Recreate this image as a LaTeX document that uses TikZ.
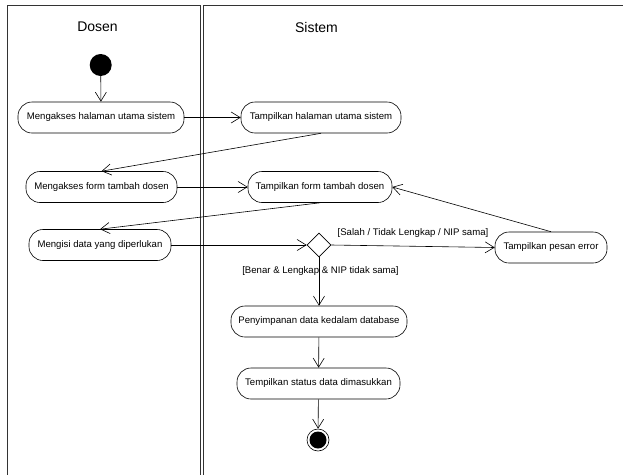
\documentclass[tikz,border=0pt]{standalone}
\usepackage{fontspec}
\setmainfont{Liberation Sans}
\usetikzlibrary{arrows.meta,positioning,shapes.geometric}

\begin{document}
\begin{tikzpicture}[x=1pt, y=-1pt,
  every node/.style={font=\fontsize{9.6}{11}\selectfont},
  action/.style={draw, line width=0.6pt, rounded corners=14pt,
               minimum height=31pt, inner sep=2pt, align=center},
  decision/.style={draw, line width=0.6pt, diamond, minimum width=24pt,
               minimum height=24pt, inner sep=0pt},
  lanetitle/.style={font=\fontsize{14}{16}\selectfont},
  lane/.style={draw=black!80, line width=0.8pt},
  flow/.style={->, line width=0.6pt},
  >={Straight Barb[length=9pt,width=11pt]}
]

\useasboundingbox[fill=white] (0,0) rectangle (623,474);

% swimlanes
\begin{scope}
  \clip (0,0) rectangle (623,474);
  \draw[lane] (7,480) -- (7,5) -- (200,5) -- (200,480);
  \draw[lane] (203,480) -- (203,5) -- (630,5);
\end{scope}

\node[lanetitle] (dosen) at (97.5,27) {Dosen};
\node[lanetitle] (sistem) at (316.5,27) {Sistem};

% actions
\node[circle, fill, minimum size=22pt, inner sep=0pt] (start) at (100.7,65) {};
\node[action, minimum width=166pt] (akses) at (101,117.5) {Mengakses halaman utama sistem};
\node[action, minimum width=160pt] (tampil) at (321,117.5) {Tampilkan halaman utama sistem};
\node[action, minimum width=151pt] (form) at (101.5,187) {Mengakses form tambah dosen};
\node[action, minimum width=144pt] (tform) at (320,187) {Tampilkan form tambah dosen};
\node[action, minimum width=142pt] (isi) at (100,245) {Mengisi data yang diperlukan};
\node[decision] (cek) at (319,245) {};
\node[action, minimum width=112pt] (error) at (551,247.5) {Tampilkan pesan error};
\node[action, minimum width=176pt] (simpan) at (319,321.5) {Penyimpanan data kedalam database};
\node[action, minimum width=163pt] (status) at (318.5,383.5) {Tempilkan status data dimasukkan};
\node[circle, draw, line width=0.6pt, minimum size=22pt, inner sep=0pt] (stop) at (318,440) {};
\node[circle, fill, minimum size=17pt, inner sep=0pt] (stopdot) at (stop) {};

% flows
\draw[flow] (start) -- (akses);
\draw[flow] (akses) -- (tampil);
\draw[flow] (tampil.south) -- (form.north);
\draw[flow] (form) -- (tform);
\draw[flow] (tform.south) -- (isi.north);
\draw[flow] (isi) -- (cek);
\draw[flow] (cek.east) -- (error.west);
\draw[flow] (error.north) -- (tform.east);
\draw[flow] (cek.south) -- (simpan.north);
\draw[flow] (simpan) -- (status);
\draw[flow] (status) -- (stop);

% guards
\node (salah) at (413,233) {[Salah / Tidak Lengkap / NIP sama]};
\node (benar) at (320.5,271) {[Benar \& Lengkap \& NIP tidak sama]};

\end{tikzpicture}
\end{document}
